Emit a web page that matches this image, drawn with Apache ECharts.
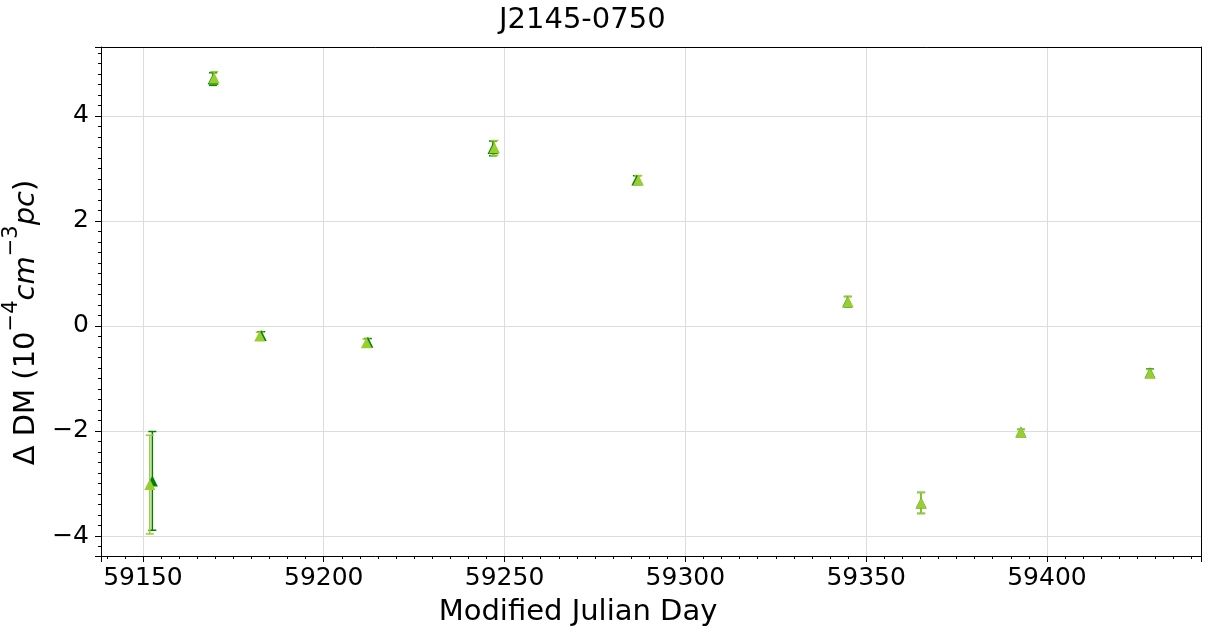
<!DOCTYPE html>
<html>
<head>
<meta charset="utf-8">
<script src="https://cdn.jsdelivr.net/npm/echarts@6/dist/echarts.min.js"></script>
<style>html,body{margin:0;padding:0;background:#fff}#c{width:1209px;height:633px}</style>
</head>
<body>
<div id="c"></div>
<script>
// Dark green series
const mjdDark = [59152.6, 59169.4, 59182.7, 59212.2, 59246.8, 59286.6, 59344.9, 59365.2, 59392.8, 59428.5];
const dmDark  = [-2.95, 4.70, -0.18, -0.31, 3.38, 2.78, 0.46, -3.37, -2.02, -0.89];
const errDark = [0.94, 0.12, 0.07, 0.07, 0.14, 0.08, 0.10, 0.20, 0.05, 0.07];
// Light (yellow-green) series
const mjdLight = [59151.9, 59169.7, 59182.3, 59211.8, 59247.2, 59287.0, 59345.0, 59365.2, 59392.8, 59428.5];
const dmLight  = [-3.02, 4.72, -0.19, -0.32, 3.39, 2.78, 0.46, -3.37, -2.02, -0.90];
const errLight = [0.94, 0.12, 0.07, 0.07, 0.14, 0.08, 0.10, 0.20, 0.05, 0.07];

const xMin = 59138.4, xMax = 59442.6, yMin = -4.38, yMax = 5.31;
const DARK = '#008000', LIGHT = '#9acd32';
const FONT = 'DejaVu Sans';

function errSeries(mjd, dm, err, color) {
  return {
    type: 'custom',
    xAxisIndex: 0, yAxisIndex: 0,
    data: mjd.map((m, i) => [m, dm[i] - err[i], dm[i] + err[i]]),
    renderItem: function (params, api) {
      const lo = api.coord([api.value(0), api.value(1)]);
      const hi = api.coord([api.value(0), api.value(2)]);
      const cw = 4;
      const st = {stroke: color, lineWidth: 1.5};
      return {type: 'group', children: [
        {type: 'line', shape: {x1: lo[0], y1: lo[1], x2: hi[0], y2: hi[1]}, style: st},
        {type: 'line', shape: {x1: lo[0]-cw, y1: lo[1], x2: lo[0]+cw, y2: lo[1]}, style: st},
        {type: 'line', shape: {x1: hi[0]-cw, y1: hi[1], x2: hi[0]+cw, y2: hi[1]}, style: st}
      ]};
    },
    z: 2, silent: true
  };
}
function ptSeries(mjd, dm, color) {
  return {
    type: 'scatter', xAxisIndex: 0, yAxisIndex: 0,
    data: mjd.map((m, i) => [m, dm[i]]),
    symbol: 'triangle', symbolSize: [11, 11],
    itemStyle: {color: color, opacity: 1},
    z: 3, silent: true
  };
}

const chart = echarts.init(document.getElementById('c'), null, {renderer: 'canvas'});
chart.setOption({
  animation: false,
  backgroundColor: '#fff',
  title: {text: 'J2145-0750', left: 494, top: 1,
    textStyle: {fontFamily: FONT, fontSize: 29, fontWeight: 'normal', color: '#000'}},
  grid: {left: 101, right: 8, top: 47, bottom: 77, containLabel: false, outerBoundsMode: 'none'},
  xAxis: [{
    type: 'value', min: xMin, max: xMax, splitNumber: 6,
    name: 'Modified Julian Day', nameLocation: 'middle', nameGap: 42,
    nameTextStyle: {fontFamily: FONT, fontSize: 29, color: '#000', padding: [0, 146, 0, 0]},
    axisLine: {show: true, onZero: false, lineStyle: {color: '#000', width: 1}},
    axisTick: {show: true, length: 6, lineStyle: {color: '#000'}},
    minorTick: {show: true, splitNumber: 10, length: 3, lineStyle: {color: '#000'}},
    axisLabel: {fontFamily: FONT, fontSize: 25, color: '#000', margin: 10, showMinLabel: false, showMaxLabel: false,
      formatter: v => String(Math.round(v))},
    splitLine: {show: true, lineStyle: {color: '#dcdcdc', width: 1}}
  }, {
    type: 'value', position: 'top', min: xMin, max: xMax,
    axisLine: {show: true, onZero: false, lineStyle: {color: '#000', width: 1}},
    axisTick: {show: false}, axisLabel: {show: false}, splitLine: {show: false}
  }],
  yAxis: [{
    type: 'value', min: yMin, max: yMax, splitNumber: 5,
    name: '{n|Δ DM (10}{s|−4}{i|cm}{s|−3}{i|pc}{n|)}',
    nameLocation: 'middle', nameGap: 52,
    nameTextStyle: {fontFamily: FONT, fontSize: 29, color: '#000', padding: [0, 42, 0, 0],
      rich: {
        n: {fontFamily: FONT, fontSize: 29, color: '#000', verticalAlign: 'bottom', lineHeight: 40},
        i: {fontFamily: FONT, fontSize: 29, fontStyle: 'italic', color: '#000', verticalAlign: 'bottom', lineHeight: 40},
        s: {fontFamily: FONT, fontSize: 21, color: '#000', verticalAlign: 'top', lineHeight: 40}
      }},
    axisLine: {show: true, onZero: false, lineStyle: {color: '#000', width: 1}},
    axisTick: {show: true, length: 6, lineStyle: {color: '#000'}},
    minorTick: {show: true, splitNumber: 10, length: 3, lineStyle: {color: '#000'}},
    axisLabel: {fontFamily: FONT, fontSize: 25, color: '#000', margin: 12, showMinLabel: false, showMaxLabel: false,
      formatter: v => (v < 0 ? '−' + Math.abs(v) : String(v))},
    splitLine: {show: true, lineStyle: {color: '#dcdcdc', width: 1}}
  }, {
    type: 'value', position: 'right', min: yMin, max: yMax,
    axisLine: {show: true, onZero: false, lineStyle: {color: '#000', width: 1}},
    axisTick: {show: false}, axisLabel: {show: false}, splitLine: {show: false}
  }],
  series: [
    errSeries(mjdDark, dmDark, errDark, DARK),
    ptSeries(mjdDark, dmDark, DARK),
    errSeries(mjdLight, dmLight, errLight, LIGHT),
    ptSeries(mjdLight, dmLight, LIGHT)
  ]
});
</script>
</body>
</html>
